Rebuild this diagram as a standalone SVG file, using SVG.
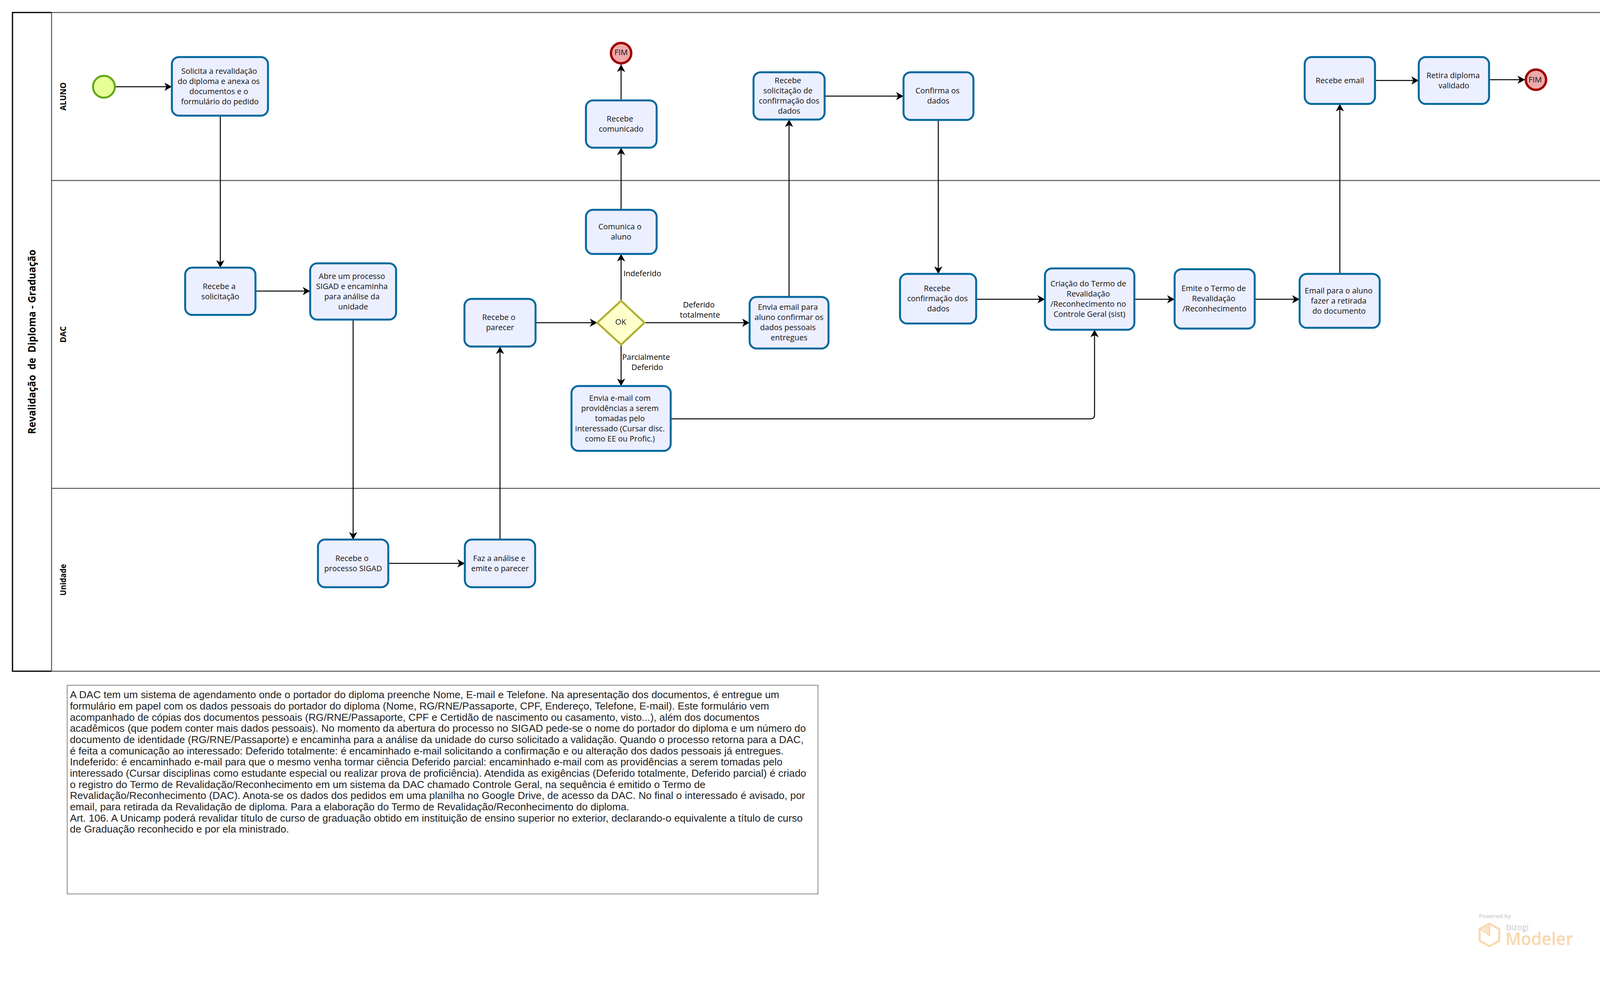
<svg xmlns="http://www.w3.org/2000/svg" width="4136" height="2580" viewBox="0 0 4136 2580">
<style>
text{font-family:"Open Sans","Noto Sans","Liberation Sans",sans-serif;fill:#111}
.t{font-size:20px;text-anchor:middle}
.task{fill:#ECEFFF;stroke:#00689D;stroke-width:5}
.lane{fill:none;stroke:#555;stroke-width:2.5}
.c{fill:none;stroke:#000;stroke-width:2.5;marker-end:url(#a)}
.l{font-size:20px;text-anchor:middle;fill:#000}
.h{font-weight:700;font-size:21px;text-anchor:middle;fill:#000}
.n{font-family:"Liberation Sans",Arial,sans-serif;font-size:26px;fill:#222}
.end{fill:#EEA9A9;stroke:#A00000;stroke-width:6}
</style>
<defs><marker id="a" markerUnits="userSpaceOnUse" markerWidth="20" markerHeight="22" refX="19" refY="11" orient="auto"><path d="M19,11 L0,0.5 L5,11 L0,21.5 z" fill="#000"/></marker></defs>
<rect width="4136" height="2580" fill="#fff"/>
<g id="pool">
<rect x="32" y="32" width="4072" height="1686" class="lane"/>
<path d="M132,32H32V1718H132" fill="none" stroke="#000" stroke-width="3"/>
<path d="M132,32V1718M132,462H4104M132,1250H4104" class="lane"/>
<text class="h" style="font-size:27px" transform="translate(90.5,875) rotate(-90)" xml:space="preserve" textLength="472" lengthAdjust="spacingAndGlyphs">Revalidação  de  Diploma - Graduação</text>
<text class="h" transform="translate(168.5,247) rotate(-90)" textLength="72" lengthAdjust="spacingAndGlyphs">ALUNO</text>
<text class="h" transform="translate(168.5,856) rotate(-90)" textLength="42" lengthAdjust="spacingAndGlyphs">DAC</text>
<text class="h" transform="translate(168.5,1484) rotate(-90)" textLength="81" lengthAdjust="spacingAndGlyphs">Unidade</text>
</g>
<g id="connectors">
<path class="c" d="M295,222H440"/>
<path class="c" d="M564,296V685"/>
<path class="c" d="M654,745H794"/>
<path class="c" d="M904,818V1381"/>
<path class="c" d="M994,1442H1190"/>
<path class="c" d="M1280,1381V887"/>
<path class="c" d="M1371,826H1529"/>
<path class="c" d="M1590,770V650"/>
<path class="c" d="M1590,537V378"/>
<path class="c" d="M1590,257V165"/>
<path class="c" d="M1650,826H1919"/>
<path class="c" d="M1590,882V988"/>
<path class="c" d="M2020,760V306"/>
<path class="c" d="M2111,246H2313"/>
<path class="c" d="M2402,307V701"/>
<path class="c" d="M2499,766H2675"/>
<path class="c" d="M1717,1072H2792Q2802,1072 2802,1062V844"/>
<path class="c" d="M2904,766H3007"/>
<path class="c" d="M3212,766H3327"/>
<path class="c" d="M3430,701V266"/>
<path class="c" d="M3520,206H3632"/>
<path class="c" d="M3812,204H3904"/>
</g>
<g id="start"><circle cx="266" cy="222" r="28" fill="#E6FF97" stroke="#62A716" stroke-width="5"/></g>
<g id="t1"><rect class="task" x="440" y="146" width="246" height="150" rx="18"/><text class="t" x="561" y="189">Solicita a revalidação</text><text class="t" x="560" y="215">do diploma e anexa os</text><text class="t" x="560" y="241">documentos e o</text><text class="t" x="563" y="267">formulário do pedido</text></g>
<g id="t2"><rect class="task" x="474" y="685" width="180" height="121" rx="18"/><text class="t" x="561" y="740">Recebe a</text><text class="t" x="564" y="766">solicitação</text></g>
<g id="t3"><rect class="task" x="794" y="674" width="220" height="144" rx="18"/><text class="t" x="901" y="714">Abre um processo</text><text class="t" x="901" y="740">SIGAD e encaminha</text><text class="t" x="901" y="766">para análise da</text><text class="t" x="904" y="792">unidade</text></g>
<g id="t4"><rect class="task" x="814" y="1381" width="180" height="122" rx="18"/><text class="t" x="901" y="1436">Recebe o</text><text class="t" x="904" y="1462">processo SIGAD</text></g>
<g id="t5"><rect class="task" x="1190" y="1381" width="180" height="122" rx="18"/><text class="t" x="1278" y="1436">Faz a análise e</text><text class="t" x="1280" y="1462">emite o parecer</text></g>
<g id="t6"><rect class="task" x="1189" y="765" width="182" height="122" rx="18"/><text class="t" x="1277" y="819">Recebe o</text><text class="t" x="1280" y="845">parecer</text></g>
<g id="gw"><polygon points="1590,770 1650,826 1590,882 1529,826" fill="#FFFFCC" stroke="#B0B030" stroke-width="5"/><text class="t" x="1589" y="831">OK</text></g>
<g id="t7"><rect class="task" x="1500" y="537" width="181" height="113" rx="18"/><text class="t" x="1587" y="587">Comunica o</text><text class="t" x="1590" y="613">aluno</text></g>
<g id="t8"><rect class="task" x="1500" y="257" width="181" height="121" rx="18"/><text class="t" x="1587" y="311">Recebe</text><text class="t" x="1590" y="337">comunicado</text></g>
<g id="fim1"><circle class="end" cx="1590" cy="136" r="26"/><text class="t" x="1590" y="141">FIM</text></g>
<g id="t9"><rect class="task" x="1463" y="988" width="254" height="166" rx="18"/><text class="t" x="1587" y="1026">Envia e-mail com</text><text class="t" x="1587" y="1052">providências a serem</text><text class="t" x="1587" y="1078">tomadas pelo</text><text class="t" x="1587" y="1104">interessado (Cursar disc.</text><text class="t" x="1587" y="1130">como EE ou Profic.)</text></g>
<g id="t10"><rect class="task" x="1919" y="760" width="202" height="132" rx="18"/><text class="t" x="2017" y="793">Envia email para</text><text class="t" x="2020" y="819">aluno confirmar os</text><text class="t" x="2017" y="845">dados pessoais</text><text class="t" x="2020" y="871">entregues</text></g>
<g id="t11"><rect class="task" x="1929" y="185" width="182" height="121" rx="18"/><text class="t" x="2017" y="213">Recebe</text><text class="t" x="2017" y="239">solicitação de</text><text class="t" x="2020" y="265">confirmação dos</text><text class="t" x="2020" y="291">dados</text></g>
<g id="t12"><rect class="task" x="2313" y="185" width="179" height="122" rx="18"/><text class="t" x="2400" y="239">Confirma os</text><text class="t" x="2402" y="265">dados</text></g>
<g id="t13"><rect class="task" x="2304" y="701" width="195" height="127" rx="18"/><text class="t" x="2399" y="745">Recebe</text><text class="t" x="2400" y="771">confirmação dos</text><text class="t" x="2402" y="797">dados</text></g>
<g id="t14"><rect class="task" x="2675" y="687" width="229" height="157" rx="18"/><text class="t" x="2786" y="733">Criação do Termo de</text><text class="t" x="2786" y="759">Revalidação</text><text class="t" x="2786" y="785">/Reconhecimento no</text><text class="t" x="2789" y="811">Controle Geral (sist)</text></g>
<g id="t15"><rect class="task" x="3007" y="689" width="205" height="152" rx="18"/><text class="t" x="3107" y="745">Emite o Termo de</text><text class="t" x="3107" y="771">Revalidação</text><text class="t" x="3109" y="797">/Reconhecimento</text></g>
<g id="t16"><rect class="task" x="3327" y="701" width="205" height="138" rx="18"/><text class="t" x="3427" y="751">Email para o aluno</text><text class="t" x="3427" y="777">fazer a retirada</text><text class="t" x="3428" y="803">do documento</text></g>
<g id="t17"><rect class="task" x="3340" y="146" width="180" height="120" rx="18"/><text class="t" x="3430" y="213">Recebe email</text></g>
<g id="t18"><rect class="task" x="3632" y="146" width="180" height="120" rx="18"/><text class="t" x="3720" y="200">Retira diploma</text><text class="t" x="3722" y="226">validado</text></g>
<g id="fim2"><circle class="end" cx="3932" cy="204" r="26"/><text class="t" x="3930" y="211">FIM</text></g>
<g id="labels">
<text class="l" x="1596" y="707" style="text-anchor:start">Indeferido</text>
<text class="l" x="1789" y="787">Deferido</text><text class="l" x="1792" y="813">totalmente</text>
<text class="l" x="1654" y="921">Parcialmente</text><text class="l" x="1657" y="947">Deferido</text>
</g>
<g id="note">
<rect x="172" y="1754" width="1922" height="534" fill="#fff" stroke="#999" stroke-width="2.5"/>
<text class="n" x="179" y="1787" textLength="1816" lengthAdjust="spacingAndGlyphs">A DAC tem um sistema de agendamento onde o portador do diploma preenche Nome, E-mail e Telefone. Na apresentação dos documentos, é entregue um</text>
<text class="n" x="179" y="1816" textLength="1790" lengthAdjust="spacingAndGlyphs">formulário em papel com os dados pessoais do portador do diploma (Nome, RG/RNE/Passaporte, CPF, Endereço, Telefone, E-mail). Este formulário vem</text>
<text class="n" x="179" y="1845" textLength="1765" lengthAdjust="spacingAndGlyphs">acompanhado de cópias dos documentos pessoais (RG/RNE/Passaporte, CPF e Certidão de nascimento ou casamento, visto...), além dos documentos</text>
<text class="n" x="179" y="1873" textLength="1884" lengthAdjust="spacingAndGlyphs">acadêmicos (que podem conter mais dados pessoais). No momento da abertura do processo no SIGAD pede-se o nome do portador do diploma e um número do</text>
<text class="n" x="179" y="1902" textLength="1878" lengthAdjust="spacingAndGlyphs">documento de identidade (RG/RNE/Passaporte) e encaminha para a análise da unidade do curso solicitado a validação. Quando o processo retorna para a DAC,</text>
<text class="n" x="179" y="1931" textLength="1827" lengthAdjust="spacingAndGlyphs">é feita a comunicação ao interessado: Deferido totalmente: é encaminhado e-mail solicitando a confirmação e ou alteração dos dados pessoais já entregues.</text>
<text class="n" x="179" y="1959" textLength="1824" lengthAdjust="spacingAndGlyphs">Indeferido: é encaminhado e-mail para que o mesmo venha tormar ciência Deferido parcial: encaminhado e-mail com as providências a serem tomadas pelo</text>
<text class="n" x="179" y="1988" textLength="1885" lengthAdjust="spacingAndGlyphs">interessado (Cursar disciplinas como estudante especial ou realizar prova de proficiência). Atendida as exigências (Deferido totalmente, Deferido parcial) é criado</text>
<text class="n" x="179" y="2017" textLength="1627" lengthAdjust="spacingAndGlyphs">o registro do Termo de Revalidação/Reconhecimento em um sistema da DAC chamado Controle Geral, na sequência é emitido o Termo de</text>
<text class="n" x="179" y="2045" textLength="1882" lengthAdjust="spacingAndGlyphs">Revalidação/Reconhecimento (DAC). Anota-se os dados dos pedidos em uma planilha no Google Drive, de acesso da DAC. No final o interessado é avisado, por</text>
<text class="n" x="179" y="2074" textLength="1432" lengthAdjust="spacingAndGlyphs">email, para retirada da Revalidação de diploma. Para a elaboração do Termo de Revalidação/Reconhecimento do diploma.</text>
<text class="n" x="179" y="2103" textLength="1876" lengthAdjust="spacingAndGlyphs">Art. 106. A Unicamp poderá revalidar título de curso de graduação obtido em instituição de ensino superior no exterior, declarando-o equivalente a título de curso</text>
<text class="n" x="179" y="2131" textLength="561" lengthAdjust="spacingAndGlyphs">de Graduação reconhecido e por ela ministrado.</text>
</g>
<g id="watermark">
<text x="3786" y="2350" style="font-size:14.5px;fill:#cfcfcf;font-weight:600">Powered by</text>
<polygon points="3813,2364 3838,2378 3838,2408 3813,2422 3788,2408 3788,2378" fill="none" stroke="#FAD6AC" stroke-width="5"/>
<polygon points="3794,2376 3813,2365 3813,2391" fill="#FCE3CB"/>
<path d="M3813,2364V2393L3790,2378" fill="none" stroke="#FAD6AC" stroke-width="4"/>
<text x="3856" y="2381" style="font-size:21px;fill:#c9c9c9">bizogi</text>
<text x="3854" y="2419" style="font-size:46px;fill:#FAD6AC;font-weight:600" textLength="173" lengthAdjust="spacingAndGlyphs">Modeler</text>
</g>
</svg>
